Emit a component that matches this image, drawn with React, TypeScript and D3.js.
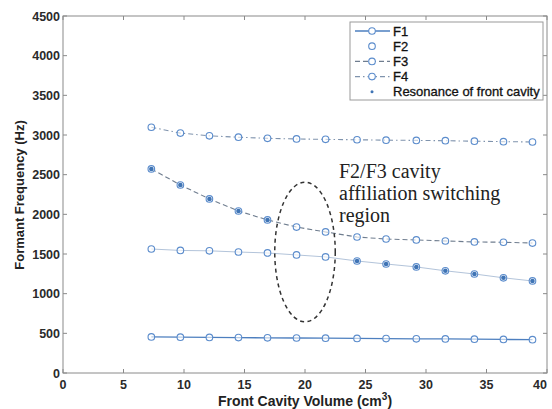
import React from "react";
import * as d3 from "d3";

// Front cavity volume (cm^3) at each simulated configuration
const volume = [7.3, 9.7, 12.1, 14.5, 16.9, 19.3, 21.7, 24.3, 26.7, 29.2, 31.6, 34.0, 36.4, 38.8];
// Formant frequencies (Hz)
const f1 = [455, 452, 449, 446, 443, 441, 439, 436, 434, 431, 429, 426, 423, 420];
const f2 = [1563, 1545, 1540, 1525, 1513, 1488, 1463, 1412, 1374, 1337, 1288, 1248, 1200, 1160];
const f3 = [2572, 2370, 2194, 2042, 1929, 1840, 1778, 1714, 1689, 1677, 1664, 1652, 1648, 1638];
const f4 = [3098, 3024, 2990, 2972, 2958, 2950, 2945, 2940, 2935, 2932, 2928, 2922, 2916, 2912];
// Indices where the formant is the front-cavity resonance
const resonanceF3 = [0, 1, 2, 3, 4];
const resonanceF2 = [7, 8, 9, 10, 11, 12, 13];

const xTicks = [0, 5, 10, 15, 20, 25, 30, 35, 40];
const yTicks = [0, 500, 1000, 1500, 2000, 2500, 3000, 3500, 4000, 4500];
const legendLabels = ["F1", "F2", "F3", "F4", "Resonance of front cavity"];
const noteLines = ["F2/F3 cavity", "affiliation switching", "region"];
// Switching region outline: center and half extents in data units
const region = { cx: 20, cy: 1525, rx: 2.5, ry: 880 };

const W = 552;
const H = 409;
const left = 63;
const right = 547;
const top = 16;
const bottom = 373;

const markerColor = "#5b8ccc";
const sans = "'Liberation Sans', Arial, sans-serif";

export default function App() {
  const x = d3.scaleLinear().domain([0, 40]).range([left, right]);
  const y = d3.scaleLinear().domain([0, 4500]).range([bottom, top]);

  const series = [
    { vals: f1, stroke: "#4d7fbf", width: 1.3, dash: "" },
    { vals: f2, stroke: "#b3c4da", width: 1, dash: "" },
    { vals: f3, stroke: "#6f7d8f", width: 1.1, dash: "5,3" },
    { vals: f4, stroke: "#7f93ad", width: 1.1, dash: "5,3,1.5,3" },
  ];

  const line = (vals: number[]) =>
    d3.line<number>()
      .x((_, i) => x(volume[i]))
      .y((d) => y(d))(vals) || "";

  const resonancePts = [
    ...resonanceF3.map((i) => [volume[i], f3[i]]),
    ...resonanceF2.map((i) => [volume[i], f2[i]]),
  ];

  const axisColor = "#8a8a8a";
  const tickLen = 4;

  const ellipse = {
    cx: x(region.cx),
    cy: y(region.cy),
    rx: x(region.cx + region.rx) - x(region.cx),
    ry: y(region.cy) - y(region.cy + region.ry),
  };

  const legX = 350;
  const legY = 22;
  const legW = 193;
  const legH = 78;
  const rowH = 15.2;

  return (
    <svg width={W} height={H} style={{ position: "absolute", left: 0, top: 0, background: "#fff" }}>
      <rect x={0} y={0} width={W} height={H} fill="#fff" />
      {/* frame */}
      <rect x={left} y={top} width={right - left} height={bottom - top} fill="none" stroke={axisColor} strokeWidth={1} />
      {xTicks.map((t) => (
        <g key={"xt" + t}>
          <line x1={x(t)} x2={x(t)} y1={bottom} y2={bottom - tickLen} stroke={axisColor} />
          <line x1={x(t)} x2={x(t)} y1={top} y2={top + tickLen} stroke={axisColor} />
          <text x={Math.min(x(t), 540)} y={389} textAnchor="middle" fontFamily={sans} fontSize={12.5} fontWeight="bold" fill="#2a2a2a">
            {t}
          </text>
        </g>
      ))}
      {yTicks.map((t) => (
        <g key={"yt" + t}>
          <line x1={left} x2={left + tickLen} y1={y(t)} y2={y(t)} stroke={axisColor} />
          <line x1={right} x2={right - tickLen} y1={y(t)} y2={y(t)} stroke={axisColor} />
          <text x={60} y={y(t) + 4.5} textAnchor="end" fontFamily={sans} fontSize={12.5} fontWeight="bold" fill="#2a2a2a">
            {t}
          </text>
        </g>
      ))}
      {/* axis titles */}
      <text x={305} y={406} textAnchor="middle" fontFamily={sans} fontSize={14} fontWeight="bold" fill="#222">
        Front Cavity Volume (cm<tspan dy={-6} fontSize={10}>3</tspan><tspan dy={6}>)</tspan>
      </text>
      <text transform={`translate(24,195) rotate(-90)`} textAnchor="middle" fontFamily={sans} fontSize={13} fontWeight="bold" fill="#222">
        Formant Frequency (Hz)
      </text>

      {/* series lines */}
      {series.map((s, k) => (
        <path key={"l" + k} d={line(s.vals)} fill="none" stroke={s.stroke} strokeWidth={s.width} strokeDasharray={s.dash} />
      ))}
      {/* hollow circle markers */}
      {series.map((s, k) =>
        s.vals.map((v, i) => (
          <circle key={`m${k}-${i}`} cx={x(volume[i])} cy={y(v)} r={3.3} fill="#fff" fillOpacity={0.6} stroke={markerColor} strokeWidth={1.1} />
        ))
      )}
      {/* front-cavity resonance markers */}
      {resonancePts.map(([vx, vy], i) => (
        <circle key={"r" + i} cx={x(vx)} cy={y(vy)} r={2.3} fill="#3f74b5" />
      ))}

      {/* switching region */}
      <ellipse cx={ellipse.cx} cy={ellipse.cy} rx={ellipse.rx} ry={ellipse.ry} fill="none" stroke="#333" strokeWidth={1.5} strokeDasharray="4,3.5" />
      {noteLines.map((t, i) => (
        <text key={"n" + i} x={339} y={178 + i * 22} fontFamily="'Liberation Serif', 'Times New Roman', serif" fontSize={20} fill="#222">
          {t}
        </text>
      ))}

      {/* legend */}
      <rect x={legX} y={legY} width={legW} height={legH} fill="#fff" stroke="#9a9a9a" strokeWidth={1} />
      {legendLabels.map((lab, i) => {
        const cy = legY + 9 + i * rowH;
        const s = series[i];
        return (
          <g key={"lg" + i}>
            {s && i !== 1 && (
              <line x1={355} x2={390} y1={cy} y2={cy} stroke={s.stroke} strokeWidth={s.width} strokeDasharray={s.dash} />
            )}
            {s && <circle cx={372} cy={cy} r={3.3} fill="#fff" stroke={markerColor} strokeWidth={1.1} />}
            {!s && <circle cx={372} cy={cy} r={1.5} fill="#3f74b5" />}
            <text x={393} y={cy + 4.5} fontFamily={sans} fontSize={13} fill="#111" stroke="#111" strokeWidth={0.3}>
              {lab}
            </text>
          </g>
        );
      })}
    </svg>
  );
}
